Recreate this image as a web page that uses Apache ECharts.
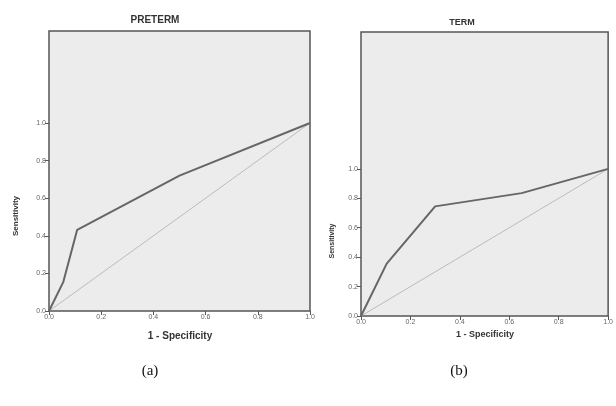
<!DOCTYPE html>
<html><head><meta charset="utf-8">
<script src="https://cdn.jsdelivr.net/npm/echarts@6/dist/echarts.min.js"></script>
<style>html,body{margin:0;padding:0;background:#fff}#c{width:616px;height:406px}</style>
</head><body><div id="c"></div>
<script>
// ROC data
const fprPreterm = [0, 0.055, 0.108, 0.50, 1.0];
const tprPreterm = [0, 0.155, 0.432, 0.72, 1.0];
const fprTerm = [0, 0.104, 0.30, 0.65, 1.0];
const tprTerm = [0, 0.356, 0.745, 0.835, 1.0];
const refLine = [0, 1];
const tickValues = [0, 0.2, 0.4, 0.6, 0.8, 1.0];
const titles = ['PRETERM', 'TERM'];
const captions = ['(a)', '(b)'];
const xName = '1 - Specificity';
const yName = 'Sensitivity';

const chart = echarts.init(document.getElementById('c'), null, {renderer: 'canvas'});
const pair = (xs, ys) => xs.map((x, i) => [x, ys[i]]);
const lab = {color: '#666', fontSize: 7, fontFamily: 'Liberation Sans', formatter: v => v.toFixed(1)};
function xAx(g) {
  return {type: 'value', gridIndex: g, min: 0, max: 1, interval: 0.2,
    axisLine: {show: false}, splitLine: {show: false},
    axisTick: {show: true, length: 4, inside: false, lineStyle: {color: '#555'}},
    axisLabel: Object.assign({margin: 3}, lab)};
}
function yAx(g, max) {
  return {type: 'value', gridIndex: g, min: 0, max: max,
    axisLine: {show: false}, splitLine: {show: false},
    axisTick: {show: true, length: 4, customValues: tickValues, lineStyle: {color: '#555'}},
    axisLabel: Object.assign({margin: 3, customValues: tickValues}, lab)};
}
const lineStyleMain = {color: '#666', width: 2};
const lineStyleRef = {color: '#bbb', width: 1};
chart.setOption({
  animation: false,
  grid: [
    {left: 49, top: 31, width: 261, height: 280, show: true, backgroundColor: '#ececec', borderColor: '#555', borderWidth: 1.5},
    {left: 361, top: 32, width: 250, height: 284, show: true, backgroundColor: '#ececec', borderColor: '#555', borderWidth: 1.5}
  ],
  xAxis: [xAx(0), xAx(1)],
  yAxis: [yAx(0, 1.489), yAx(1, 1.93)],
  series: [
    {type: 'line', xAxisIndex: 0, yAxisIndex: 0, data: pair(refLine, refLine), symbol: 'none', lineStyle: lineStyleRef, z: 2},
    {type: 'line', xAxisIndex: 0, yAxisIndex: 0, data: pair(fprPreterm, tprPreterm), symbol: 'none', lineStyle: lineStyleMain, z: 3},
    {type: 'line', xAxisIndex: 1, yAxisIndex: 1, data: pair(refLine, refLine), symbol: 'none', lineStyle: lineStyleRef, z: 2},
    {type: 'line', xAxisIndex: 1, yAxisIndex: 1, data: pair(fprTerm, tprTerm), symbol: 'none', lineStyle: lineStyleMain, z: 3}
  ],
  graphic: [
    {type: 'text', x: 155, y: 20, style: {text: titles[0], fill: '#333', font: 'bold 10px "Liberation Sans"', textAlign: 'center', textVerticalAlign: 'middle'}},
    {type: 'text', x: 462, y: 23, style: {text: titles[1], fill: '#333', font: 'bold 9px "Liberation Sans"', textAlign: 'center', textVerticalAlign: 'middle'}},
    {type: 'text', x: 180, y: 336, style: {text: xName, fill: '#333', font: 'bold 10px "Liberation Sans"', textAlign: 'center', textVerticalAlign: 'middle'}},
    {type: 'text', x: 485, y: 335, style: {text: xName, fill: '#333', font: 'bold 9px "Liberation Sans"', textAlign: 'center', textVerticalAlign: 'middle'}},
    {type: 'text', x: 16, y: 216, rotation: Math.PI / 2, style: {text: yName, fill: '#333', font: 'bold 8px "Liberation Sans Narrow", "Liberation Sans"', textAlign: 'center', textVerticalAlign: 'middle'}},
    {type: 'text', x: 332, y: 241, rotation: Math.PI / 2, style: {text: yName, fill: '#333', font: 'bold 7px "Liberation Sans Narrow", "Liberation Sans"', textAlign: 'center', textVerticalAlign: 'middle'}},
    {type: 'text', x: 150, y: 371, style: {text: captions[0], fill: '#111', font: '15px "Liberation Serif"', textAlign: 'center', textVerticalAlign: 'middle'}},
    {type: 'text', x: 459, y: 371, style: {text: captions[1], fill: '#111', font: '15px "Liberation Serif"', textAlign: 'center', textVerticalAlign: 'middle'}}
  ]
});
</script></body></html>
